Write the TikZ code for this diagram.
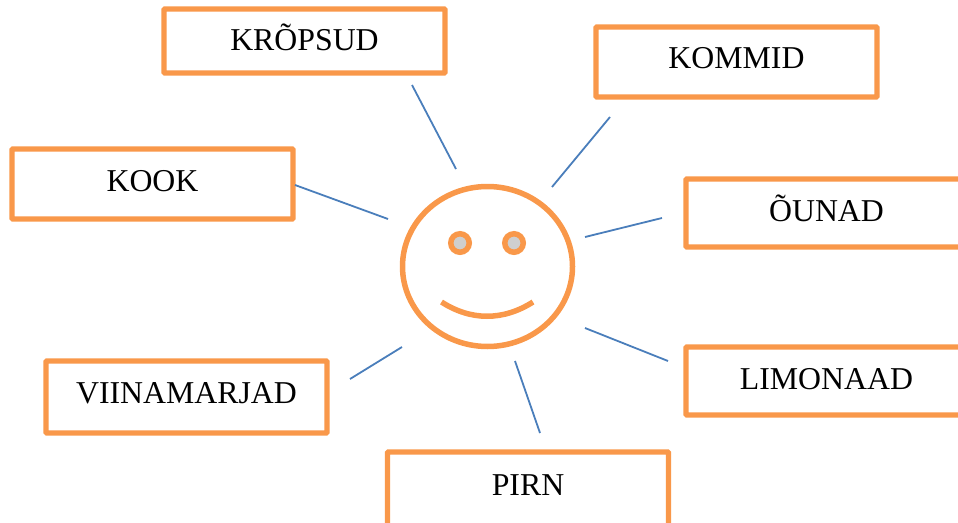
\documentclass[tikz,border=0pt]{standalone}
\usepackage{fontspec}
\usetikzlibrary{shapes.geometric}
\setmainfont{Liberation Serif}
\definecolor{boxorange}{HTML}{F9984A}
\definecolor{rayblue}{HTML}{4A7EBB}
\definecolor{eyegray}{HTML}{CFCFCF}
\tikzset{
  wordbox/.style={draw=boxorange,line width=5.2pt,rounded corners=0.8pt,fill=white,inner sep=0pt,
    font=\fontsize{31.8}{34}\selectfont,text height=21pt,text depth=#1,minimum width=281pt},
  wordbox/.default=0pt,
  ray/.style={draw=rayblue,line width=1.8pt},
  faceline/.style={draw=boxorange,line width=5.5pt},
  eye/.style={circle,draw=boxorange,line width=5.5pt,fill=eyegray,minimum size=18.5pt,inner sep=0pt}
}
\begin{document}
\begin{tikzpicture}[x=1pt,y=-1pt]
\useasboundingbox (0,0) rectangle (958,522);
\clip (0,0) rectangle (958,522);
\node[wordbox=2pt,minimum height=64pt] (krop) at (304.5,41) {KRÕPSUD};
\node[wordbox=8pt,minimum height=70pt] (kommid) at (736.5,62) {KOMMID};
\node[wordbox=6pt,minimum height=70pt] (kook) at (152.5,184) {KOOK};
\node[wordbox=4pt,minimum height=68pt] (ounad) at (826.5,213) {ÕUNAD};
\node[wordbox=4pt,minimum height=68pt] (limonaad) at (826.5,381) {LIMONAAD};
\node[wordbox=8pt,minimum height=72pt] (viina) at (186.5,397) {VIINAMARJAD};
\node[wordbox=14pt,minimum height=80pt] (pirn) at (528,492) {PIRN};
\node[ellipse,faceline,minimum width=170pt,minimum height=160pt,inner sep=0pt] (face) at (487.5,266.5) {};
\node[eye] (eyeL) at (460,243) {};
\node[eye] (eyeR) at (514,243) {};
\coordinate (smileL) at (441.5,302);
\coordinate (smileR) at (533,302);
\draw[faceline] (smileL) .. controls (471,321) and (503,321) .. (smileR);
\coordinate (r1a) at (412,85);   \coordinate (r1b) at (456,169);
\coordinate (r2a) at (610,117);  \coordinate (r2b) at (552,187);
\coordinate (r3a) at (295,185);  \coordinate (r3b) at (388,219);
\coordinate (r4a) at (662,218);  \coordinate (r4b) at (585,237);
\coordinate (r5a) at (668,361);  \coordinate (r5b) at (585,328);
\coordinate (r6a) at (350,379);  \coordinate (r6b) at (402,347);
\coordinate (r7a) at (540,433);  \coordinate (r7b) at (515,361);
\draw[ray] (r1a) -- (r1b);
\draw[ray] (r2a) -- (r2b);
\draw[ray] (r3a) -- (r3b);
\draw[ray] (r4a) -- (r4b);
\draw[ray] (r5a) -- (r5b);
\draw[ray] (r6a) -- (r6b);
\draw[ray] (r7a) -- (r7b);
\end{tikzpicture}
\end{document}
